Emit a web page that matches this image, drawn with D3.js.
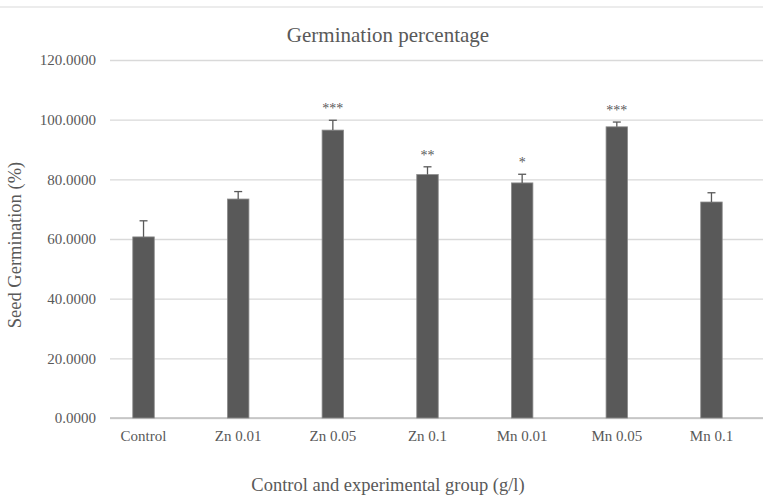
<!DOCTYPE html>
<html><head><meta charset="utf-8">
<script src="https://cdn.jsdelivr.net/npm/d3@7"></script>
<style>body{margin:0;background:#fff}svg{display:block}</style>
</head><body>
<script>
const categories = ["Control","Zn 0.01","Zn 0.05","Zn 0.1","Mn 0.01","Mn 0.05","Mn 0.1"];
const values = [60.7, 73.4, 96.5, 81.6, 78.8, 97.6, 72.4];
const errors = [5.4, 2.5, 3.3, 2.6, 2.9, 1.6, 3.1];
const significance = ["", "", "***", "**", "*", "***", ""];
const yTicks = [0, 20, 40, 60, 80, 100, 120];

const W = 763, H = 498;
const svg = d3.select("body").append("svg").attr("width", W).attr("height", H);
const font = "'Liberation Serif', 'Times New Roman', serif";

const y = d3.scaleLinear().domain([0, 120]).range([418, 60]);
const x = d3.scaleBand().domain(categories).range([96.2, 758.8]).paddingInner(0.773).paddingOuter(0.3865);

// top frame line
svg.append("line").attr("x1", 0).attr("x2", W).attr("y1", 7).attr("y2", 7)
  .attr("stroke", "#d9d9d9").attr("stroke-width", 1);

// gridlines
const grid = d3.axisLeft(y).tickValues(yTicks).tickSize(-(763 - 110)).tickFormat("");
svg.append("g").attr("transform", "translate(110,0)").call(grid)
  .call(g => g.select(".domain").remove())
  .call(g => g.selectAll("line").attr("stroke", "#d9d9d9").attr("stroke-width", 1.3));

// y tick labels
const yAxis = d3.axisLeft(y).tickValues(yTicks).tickSize(0).tickPadding(0).tickFormat(d3.format(".4f"));
svg.append("g").attr("transform", "translate(96,0)").call(yAxis)
  .call(g => g.select(".domain").remove())
  .call(g => g.selectAll("text").attr("font-family", font).attr("font-size", 15).attr("fill", "#595959"));

// baseline
svg.append("line").attr("x1", 110).attr("x2", W).attr("y1", y(0)).attr("y2", y(0))
  .attr("stroke", "#bfbfbf").attr("stroke-width", 1.3);

// bars
svg.append("g").selectAll("rect").data(categories).join("rect")
  .attr("x", d => x(d)).attr("width", x.bandwidth())
  .attr("y", (d, i) => y(values[i])).attr("height", (d, i) => y(0) - y(values[i]))
  .attr("fill", "#595959").attr("stroke", "#8c8c8c").attr("stroke-width", 0.8);

// error bars
const eb = svg.append("g").attr("stroke", "#595959").attr("stroke-width", 1.3);
categories.forEach((c, i) => {
  const cx = x(c) + x.bandwidth() / 2;
  eb.append("line").attr("x1", cx).attr("x2", cx).attr("y1", y(values[i])).attr("y2", y(values[i] + errors[i]));
  eb.append("line").attr("x1", cx - 4).attr("x2", cx + 4).attr("y1", y(values[i] + errors[i])).attr("y2", y(values[i] + errors[i]));
});

// significance stars
svg.append("g").selectAll("text").data(categories).join("text")
  .attr("x", d => x(d) + x.bandwidth() / 2)
  .attr("y", (d, i) => y(values[i] + errors[i]) - 7)
  .attr("text-anchor", "middle").attr("font-family", font).attr("font-size", 14)
  .attr("fill", "#595959").text((d, i) => significance[i]);

// x labels
const xAxis = d3.axisBottom(x).tickSize(0).tickPadding(0);
svg.append("g").attr("transform", `translate(0,${y(0) + 12})`).call(xAxis)
  .call(g => g.select(".domain").remove())
  .call(g => g.selectAll("text").attr("font-family", font).attr("font-size", 15).attr("fill", "#595959"));

// title
svg.append("text").attr("x", 388).attr("y", 42).attr("text-anchor", "middle")
  .attr("font-family", font).attr("font-size", 21).attr("fill", "#595959").text("Germination percentage");

// axis titles
svg.append("text").attr("x", 388).attr("y", 491).attr("text-anchor", "middle")
  .attr("font-family", font).attr("font-size", 18.5).attr("fill", "#595959").text("Control and experimental group (g/l)");
svg.append("text").attr("transform", "translate(21,245) rotate(-90)").attr("text-anchor", "middle")
  .attr("font-family", font).attr("font-size", 18.5).attr("fill", "#595959").text("Seed Germination (%)");
</script>
</body></html>
